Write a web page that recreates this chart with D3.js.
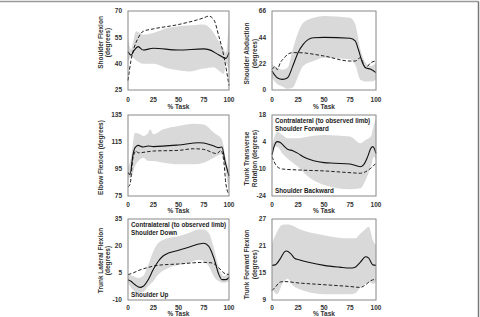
<!DOCTYPE html>
<html>
<head>
<meta charset="utf-8">
<script src="https://cdn.jsdelivr.net/npm/d3@7"></script>
<style>
  body { margin: 0; background: #fff; }
  svg { display: block; }
  text { font-family: "Liberation Sans", Arial, sans-serif; font-weight: bold; }
</style>
</head>
<body>
<div id="chart"></div>
<script>
// ---- data (x = % task, y = degrees) ----
var xTicks = [0, 25, 50, 75, 100];

// shoulder flexion
var sfTicks = [25, 40, 55, 70];
var sfMean = [[0,46.8],[3,44.9],[6,47.5],[10,49.7],[15,47.8],[25,48.8],[50,47.8],[75,48.4],[80,48],[90,45],[97,43],[100,46.3]];
var sfRef = [[0,30.4],[3,42],[6,49],[10,54.6],[15,58.4],[25,59.8],[50,62.3],[75,66.1],[80,67.1],[85,65],[90,55.5],[95,44],[100,27.5]];
var sfBand = [[0,41,55],[3,44,48],[8,42,58.4],[15,40,56.5],[25,40,57.5],[40,37.2,60.4],[50,36.2,61.3],[60,35.5,61.7],[75,37.2,62.3],[85,38,57.5],[90,36,52.5],[95,34.3,48],[97,40,46],[100,36,66]];

// shoulder abduction
var saTicks = [0, 22, 44, 66];
var saMean = [[0,15.9],[5,10.3],[10,8.9],[15,10.3],[20,20],[25,31.2],[30,38.1],[35,42.3],[40,43.7],[50,44],[75,43.2],[80,41],[83,34],[87,22.8],[90,18.6],[95,17.3],[100,14.5]];
var saRef = [[0,17.3],[3,19.5],[5,17],[8,22.8],[12,27],[15,29.8],[20,31.2],[25,31.2],[50,28.4],[75,24.2],[80,24.2],[85,27],[90,18.6],[95,22.8],[100,24.2]];
var saBand = [[0,10.3,21.4],[5,5,18.6],[10,3,17],[15,1,18.6],[20,2,34],[25,11.3,47.9],[30,20,56.2],[40,24.2,60.4],[50,27,61.8],[75,25.6,60.4],[80,21,54.9],[85,8.5,34],[90,7,22.8],[95,7,20],[100,8.5,22.8]];

// elbow flexion
var efTicks = [75, 95, 115, 135];
var efMean = [[0,92.3],[2,91],[5,105.9],[7,110.8],[10,112.5],[15,111.3],[20,112],[25,111.6],[50,112.8],[70,114.5],[75,114.2],[85,112],[90,110.8],[93,111.3],[96,101],[100,89.8]];
var efRef = [[0,81.7],[2,83.6],[5,103.4],[8,108.3],[10,107],[25,108.3],[50,108.8],[65,110],[75,109.5],[88,106.4],[92,108.8],[95,99.7],[97,83.6],[100,76.2]];
var efBand = [[0,88.6,96],[3,88.6,103.4],[7,97.2,121.9],[12,102.2,120.7],[15,103.4,119.5],[20,101,121.9],[22,101,124.4],[25,101,120.7],[35,99.7,124.4],[50,98.5,126.9],[65,98.5,128.6],[75,99.7,128],[85,103.4,121.9],[93,105.9,117],[96,95.9,105.9],[100,78.7,92.3]];

// trunk transverse rotation
var trTicks = [-24, -10, 4, 18];
var trMean = [[0,-2.7],[2,1.6],[5,4.2],[8,3.7],[12,1.6],[15,0.2],[20,-0.5],[25,-1.9],[30,-3.6],[40,-5.7],[50,-6.7],[60,-7],[75,-7.4],[85,-8.8],[88,-7.9],[92,-3.6],[95,0.7],[97,1.6],[100,-1.9]];
var trRef = [[0,-3.6],[2,-6.2],[5,-8.8],[10,-10],[25,-10.5],[50,-11],[75,-11.9],[85,-12.2],[90,-11.4],[95,-9.6],[100,-7]];
var trBand = [[0,-6.2,2.5],[3,1.6,7.6],[5,1.6,9.4],[10,-1.9,7.6],[15,-4.5,5.9],[25,-8.8,5.9],[35,-14,6.8],[50,-18.3,7.6],[75,-20.5,6.8],[85,-20,3.3],[90,-15.7,5],[95,-8.8,6.8],[98,-3.6,12.8],[100,-5.3,16.3]];

// trunk lateral flexion
var tlTicks = [-10, 5, 20, 35];
var tlMean = [[0,1.3],[3,0.4],[7,-1.5],[12,-3],[15,-2.4],[20,1.3],[25,6.9],[30,11.5],[35,14.6],[40,16.1],[50,17.6],[60,19.3],[70,21.1],[75,21.5],[80,19.8],[85,13.3],[90,4.1],[93,1.3],[97,1.3],[100,2.6]];
var tlRef = [[0,4.1],[5,5],[10,6.3],[20,8.1],[30,9.3],[50,10],[75,10.9],[83,10.6],[90,7.8],[95,5],[100,4.1]];
var tlBand = [[0,-0.5,4.1],[5,-4.3,3.3],[10,-6.1,2.2],[15,-5.6,3.3],[20,-2.4,9.6],[25,0.4,17],[30,4.1,21.7],[40,7.8,24.4],[50,9.6,25.4],[60,10.6,27.2],[70,12.4,29.1],[75,11.5,29.1],[80,8.7,27.2],[85,3.1,18.9],[90,0.4,7.8],[95,-0.5,3.3],[100,0.4,6]];

// trunk forward flexion
var tfTicks = [9, 15, 21, 27];
var tfMean = [[0,16.7],[3,16.8],[8,18.2],[12,19.7],[14,19.9],[18,19.3],[22,18.2],[25,18],[35,17.4],[50,16.7],[65,16.3],[75,16.1],[80,16.3],[85,17.4],[90,18.6],[93,18.3],[97,16.8],[100,16.7]];
var tfRef = [[0,11.1],[3,11.8],[8,13],[12,13.1],[25,12.8],[50,12.4],[75,12],[85,11.8],[90,12.4],[95,13.3],[100,13.6]];
var tfBand = [[0,11.5,21.5],[5,10.3,24.2],[10,12.6,25.7],[15,13.7,25.8],[20,12.2,25.5],[25,11.5,24.9],[50,10.3,23.4],[75,10.3,22.7],[80,10.5,22.7],[85,11.8,23.8],[90,12.6,24.8],[93,13,25.3],[97,12.6,22.3],[100,13,21.2]];

// ---- layout ----
var W = 480, H = 317;
var cols = [{x0: 128, x1: 229, t1: 101, t2: 108}, {x0: 272, x1: 376, t1: 247, t2: 255}];
var rows = [{y0: 11, y1: 90, tk: 11.5, ttl: 19}, {y0: 115, y1: 196, tk: 10.5, ttl: 17}, {y0: 219, y1: 300, tk: 10, ttl: 16}];

var panels = [
  {c: 0, r: 0, ticks: sfTicks, mean: sfMean, ref: sfRef, band: sfBand, title: ["Shoulder Flexion", "(degrees)"], dy: -8},
  {c: 1, r: 0, ticks: saTicks, mean: saMean, ref: saRef, band: saBand, title: ["Shoulder Abduction", "(degrees)"], dy: 3},
  {c: 0, r: 1, ticks: efTicks, mean: efMean, ref: efRef, band: efBand, title: ["Elbow Flexion (degrees)"], dy: 2},
  {c: 1, r: 1, ticks: trTicks, mean: trMean, ref: trRef, band: trBand, title: ["Trunk Transverse", "Rotation (degrees)"], dy: 3,
    notesTop: ["Contralateral (to observed limb)", "Shoulder Forward"], noteBottom: "Shoulder Backward"},
  {c: 0, r: 2, ticks: tlTicks, mean: tlMean, ref: tlRef, band: tlBand, title: ["Trunk Lateral Flexion", "(degrees)"], dy: 1,
    notesTop: ["Contralateral (to observed limb)", "Shoulder Down"], noteBottom: "Shoulder Up"},
  {c: 1, r: 2, ticks: tfTicks, mean: tfMean, ref: tfRef, band: tfBand, title: ["Trunk Forward Flexion", "(degrees)"], dy: 5}
];

var svg = d3.select("#chart").append("svg")
  .attr("width", W).attr("height", H);

// outer frame (top + right)
svg.append("line").attr("x1", 0).attr("x2", 478.5).attr("y1", 1.5).attr("y2", 1.5)
  .attr("stroke", "#999").attr("stroke-width", 1.5);
svg.append("line").attr("x1", 478.5).attr("x2", 478.5).attr("y1", 1.5).attr("y2", H)
  .attr("stroke", "#777").attr("stroke-width", 1.5);

panels.forEach(function (p) {
  var col = cols[p.c], row = rows[p.r];
  var x = d3.scaleLinear().domain([0, 100]).range([col.x0, col.x1]);
  var y = d3.scaleLinear().domain([p.ticks[0], p.ticks[p.ticks.length - 1]]).range([row.y1, row.y0]);
  var g = svg.append("g");

  // sd band
  var area = d3.area()
    .x(function (d) { return x(d[0]); })
    .y0(function (d) { return y(d[1]); })
    .y1(function (d) { return y(d[2]); })
    .curve(d3.curveMonotoneX);
  g.append("path").datum(p.band).attr("d", area).attr("fill", "#d9d9d9");

  var line = d3.line()
    .x(function (d) { return x(d[0]); })
    .y(function (d) { return y(d[1]); })
    .curve(d3.curveMonotoneX);

  g.append("path").datum(p.ref).attr("d", line)
    .attr("fill", "none").attr("stroke", "#222").attr("stroke-width", 1)
    .attr("stroke-dasharray", "3.5,2");
  g.append("path").datum(p.mean).attr("d", line)
    .attr("fill", "none").attr("stroke", "#111").attr("stroke-width", 1.1);

  // box
  g.append("rect")
    .attr("x", col.x0).attr("y", row.y0)
    .attr("width", col.x1 - col.x0).attr("height", row.y1 - row.y0)
    .attr("fill", "none").attr("stroke", "#888").attr("stroke-width", 1);

  // y ticks
  g.selectAll(".yt").data(p.ticks).enter().append("text")
    .attr("x", col.x0 - 6).attr("y", function (d) { return y(d) + 2.3; })
    .attr("text-anchor", "end").attr("font-size", 6.5).attr("fill", "#333")
    .text(function (d) { return d; });

  // x ticks
  g.selectAll(".xt").data(xTicks).enter().append("text")
    .attr("x", function (d) { return x(d); }).attr("y", row.y1 + row.tk)
    .attr("text-anchor", "middle").attr("font-size", 6.5).attr("fill", "#333")
    .text(function (d) { return d; });

  g.append("text")
    .attr("x", (col.x0 + col.x1) / 2).attr("y", row.y1 + row.ttl)
    .attr("text-anchor", "middle").attr("font-size", 6.5).attr("fill", "#333")
    .text("% Task");

  // y title
  var cy = (row.y0 + row.y1) / 2 + p.dy;
  var tx = p.title.length === 1 ? [col.t1] : [col.t1, col.t2];
  p.title.forEach(function (t, i) {
    g.append("text")
      .attr("transform", "translate(" + (tx[i] + 2.3) + "," + cy + ") rotate(-90)")
      .attr("text-anchor", "middle").attr("font-size", 6.5).attr("fill", "#333")
      .text(t);
  });

  // annotations
  if (p.notesTop) {
    p.notesTop.forEach(function (t, i) {
      g.append("text").attr("x", col.x0 + 3).attr("y", row.y0 + 8 + i * 7.5)
        .attr("font-size", 6.3).attr("fill", "#222").text(t);
    });
    g.append("text").attr("x", col.x0 + 3).attr("y", row.y1 - 3)
      .attr("font-size", 6.3).attr("fill", "#222").text(p.noteBottom);
  }
});
</script>
</body>
</html>
